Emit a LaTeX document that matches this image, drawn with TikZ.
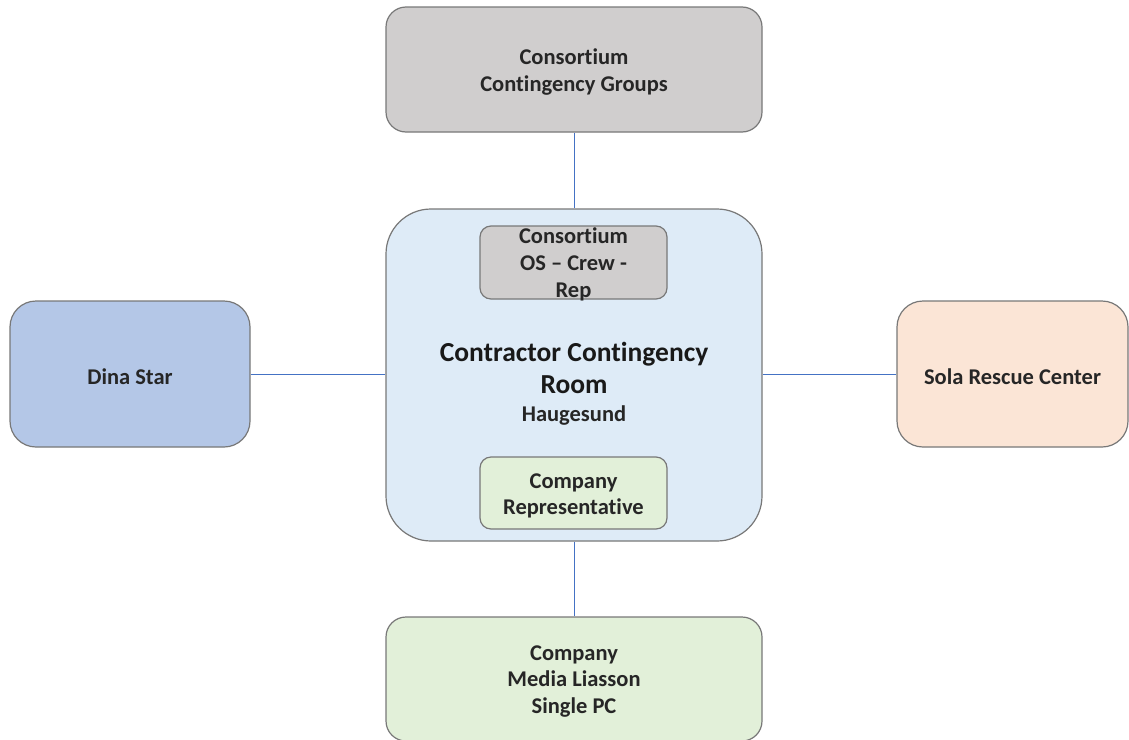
\documentclass[tikz,border=0pt]{standalone}
\usepackage{fontspec}
\setmainfont{Carlito}[Ligatures=NoCommon]
\definecolor{boxgray}{RGB}{208,206,206}
\definecolor{roomblue}{RGB}{222,235,247}
\definecolor{dinablue}{RGB}{180,199,231}
\definecolor{solapeach}{RGB}{251,229,214}
\definecolor{compgreen}{RGB}{226,240,217}
\definecolor{edgegray}{RGB}{120,120,120}
\definecolor{linkblue}{RGB}{68,114,196}
\begin{document}
\begin{tikzpicture}[x=1pt,y=-1pt,
  box/.style={draw=edgegray, line width=1.2pt, rectangle, inner sep=0pt},
  lbl/.style={align=center, inner sep=0pt, yshift=-2.5pt, text=black!85,
    font=\bfseries\fontsize{22.5}{26.5}\selectfont},
  link/.style={draw=linkblue, line width=1pt}]
\useasboundingbox[fill=white] (0,0) rectangle (1129,739);
\node[box, fill=boxgray, rounded corners=20pt, minimum width=376pt, minimum height=125pt,
  label={[lbl]center:{Consortium\\Contingency Groups}}] (top) at (574,69.5) {};
\node[box, fill=roomblue, rounded corners=45pt, minimum width=376pt, minimum height=332pt] (room) at (574,375) {};
\node[box, fill=dinablue, rounded corners=26pt, minimum width=240pt, minimum height=146pt,
  label={[lbl]center:Dina Star}] (dina) at (130,374) {};
\node[box, fill=solapeach, rounded corners=26pt, minimum width=231pt, minimum height=146pt,
  label={[lbl]center:Sola Rescue Center}] (sola) at (1012.5,374) {};
\node[box, fill=compgreen, rounded corners=20pt, minimum width=376pt, minimum height=124pt,
  label={[lbl]center:{Company\\Media Liasson\\Single PC}}] (media) at (574,679) {};
\node[box, fill=boxgray, rounded corners=11pt, minimum width=187pt, minimum height=73pt,
  label={[lbl, yshift=1pt, font=\bfseries\fontsize{22.5}{27}\selectfont]center:{Consortium\\OS -- Crew -\\Rep}}] (osrep) at (573.5,262.5) {};
\node[box, fill=compgreen, rounded corners=11pt, minimum width=187pt, minimum height=72pt,
  label={[lbl, yshift=-0.5pt]center:{Company\\Representative}}] (rep) at (573.5,493) {};
\node[align=center, inner sep=0pt, text=black!90, font=\bfseries\fontsize{27.5}{32}\selectfont] (title) at (574,367.5) {Contractor Contingency\\Room};
\node[inner sep=0pt, text=black!85, font=\bfseries\fontsize{22.5}{26}\selectfont] (place) at (574,416) {Haugesund};
\draw[link] (top.south) -- (room.north);
\draw[link] (room.south) -- (media.north);
\draw[link] (dina.east) -- (dina.east -| room.west);
\draw[link] (room.east |- sola.west) -- (sola.west);
\end{tikzpicture}
\end{document}
